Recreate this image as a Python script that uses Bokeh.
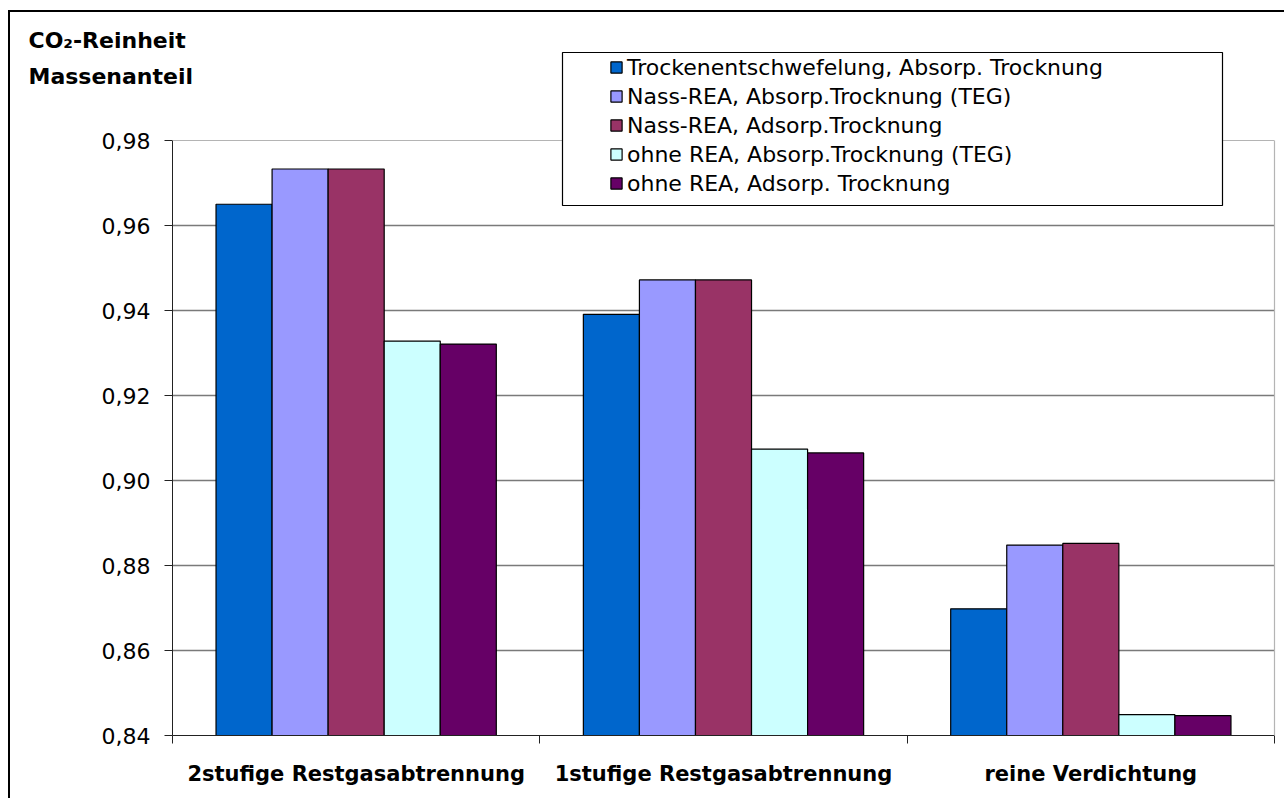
from bokeh.plotting import figure
from bokeh.models import (ColumnDataSource, Range1d, FixedTicker, CustomJSTickFormatter,
                          Legend, LegendItem, BoxAnnotation, Span, LinearAxis, Title)
from bokeh.transform import dodge
from bokeh.embed import file_html
from bokeh.resources import INLINE

# ---- data ----
categories = ["2stufige Restgasabtrennung", "1stufige Restgasabtrennung", "reine Verdichtung"]
series_names = [
    "Trockenentschwefelung, Absorp. Trocknung",
    "Nass-REA, Absorp.Trocknung (TEG)",
    "Nass-REA, Adsorp.Trocknung",
    "ohne REA, Absorp.Trocknung (TEG)",
    "ohne REA, Adsorp. Trocknung",
]
trocken_abs = [0.9650, 0.9391, 0.8698]
nass_abs_teg = [0.9733, 0.9472, 0.8848]
nass_ads = [0.9733, 0.9472, 0.8852]
ohne_abs_teg = [0.9328, 0.9074, 0.8449]
ohne_ads = [0.9321, 0.9065, 0.8447]
series_values = [trocken_abs, nass_abs_teg, nass_ads, ohne_abs_teg, ohne_ads]
colors = ["#0066CC", "#9999FF", "#993366", "#CCFFFF", "#660066"]
y_ticks = [0.84, 0.86, 0.88, 0.90, 0.92, 0.94, 0.96, 0.98]
y_min, y_max = 0.84, 0.98
title_lines = ["CO\u2082-Reinheit", "Massenanteil"]

FONT = "DejaVu Sans"

# ---- layout (pixels) ----
W, H = 1284, 798
frame_top, axis_top, axis_bottom = 40, 140, 735   # frame extends above the value axis
frame_left, frame_right = 172, 1274
y_end = y_min + (y_max - y_min) * (axis_bottom - frame_top) / (axis_bottom - axis_top)

data = {"x": [i + 0.5 for i in range(len(categories))]}
for k, vals in enumerate(series_values):
    data["s%d" % k] = vals
source = ColumnDataSource(data)

p = figure(width=W, height=H, output_backend="svg", toolbar_location=None,
           x_range=Range1d(0, len(categories)), y_range=Range1d(y_min, y_end),
           min_border_left=frame_left, min_border_right=W - frame_right,
           min_border_top=frame_top, min_border_bottom=H - axis_bottom)
p.background_fill_color = "white"
p.border_fill_color = None
p.outline_line_color = None
p.styles = {"box-shadow": "inset 8px 10px 0 0 white, inset 10px 12px 0 0 black"}

bw = 0.1526
renderers = []
for k, col in enumerate(colors):
    r = p.vbar(x=dodge("x", (k - 2) * bw, range=p.x_range), top="s%d" % k, bottom=y_min,
               width=bw, source=source, fill_color=col, line_color="black", line_width=1.2)
    renderers.append(r)

# y axis
p.yaxis.bounds = (y_min, y_max)
p.yaxis.ticker = FixedTicker(ticks=y_ticks)
p.yaxis.formatter = CustomJSTickFormatter(code="return tick.toFixed(2).replace('.', ',');")
p.yaxis.major_label_text_font = FONT
p.yaxis.major_label_text_font_size = "22px"
p.yaxis.major_label_text_color = "black"
p.yaxis.major_tick_out = 8
p.yaxis.major_tick_in = 0
p.yaxis.minor_tick_line_color = None
p.yaxis.major_label_standoff = 14
p.yaxis.axis_line_color = "#222222"
p.yaxis.major_tick_line_color = "#222222"

# right border of the plot area (light grey)
rax = LinearAxis(bounds=(y_min, y_max), ticker=FixedTicker(ticks=[]),
                 axis_line_color="#b4b4b4", axis_line_width=1.2,
                 major_tick_line_color=None, minor_tick_line_color=None,
                 major_label_text_font_size="0px")
p.add_layout(rax, "right")

# x axis
p.xaxis.ticker = FixedTicker(ticks=[i + 0.5 for i in range(len(categories))],
                             minor_ticks=list(range(len(categories) + 1)))
p.xaxis.major_label_overrides = {i + 0.5: c for i, c in enumerate(categories)}
p.xaxis.major_label_text_font = FONT
p.xaxis.major_label_text_font_style = "bold"
p.xaxis.major_label_text_font_size = "21px"
p.xaxis.major_label_text_color = "black"
p.xaxis.major_tick_out = 0
p.xaxis.major_tick_in = 0
p.xaxis.major_tick_line_color = None
p.xaxis.minor_tick_out = 8
p.xaxis.minor_tick_in = 0
p.xaxis.minor_tick_line_color = "#222222"
p.xaxis.major_label_standoff = 18
p.xaxis.axis_line_color = "#222222"

# grid
p.xgrid.visible = False
p.ygrid.ticker = FixedTicker(ticks=y_ticks[1:-1])
p.ygrid.grid_line_color = "#7a7a7a"
p.ygrid.grid_line_width = 1.3

# top border of the plot area (light grey)
p.add_layout(Span(location=y_max, dimension="width", line_color="#b4b4b4", line_width=1.2))

# legend box
legbox = BoxAnnotation(left=562, right=1222, top=52, bottom=205,
                       left_units="canvas", right_units="canvas", top_units="canvas", bottom_units="canvas",
                       fill_color="white", fill_alpha=1, line_color="black", line_alpha=1, line_width=1.2)
p.add_layout(legbox)

legend = Legend(items=[LegendItem(label=n, renderers=[r]) for n, r in zip(series_names, renderers)],
                location=(437, 539), padding=0, margin=0, spacing=3,
                label_height=26, glyph_width=14, glyph_height=14, label_standoff=4,
                label_text_font=FONT, label_text_font_size="22px",
                label_text_color="black",
                background_fill_alpha=0, border_line_alpha=0)
p.add_layout(legend)

# value-axis title (two lines, top left); padding = (left, right, top, bottom)
p.add_layout(Title(text="\n".join(title_lines), align="left", vertical_align="top",
                   offset=-144, standoff=-101, padding=(0, 0, 53, 0),
                   text_font=FONT, text_font_style="bold", text_font_size="22px",
                   text_line_height=1.45, text_color="black"), "above")

open("out.html", "w").write(file_html(p, INLINE))
